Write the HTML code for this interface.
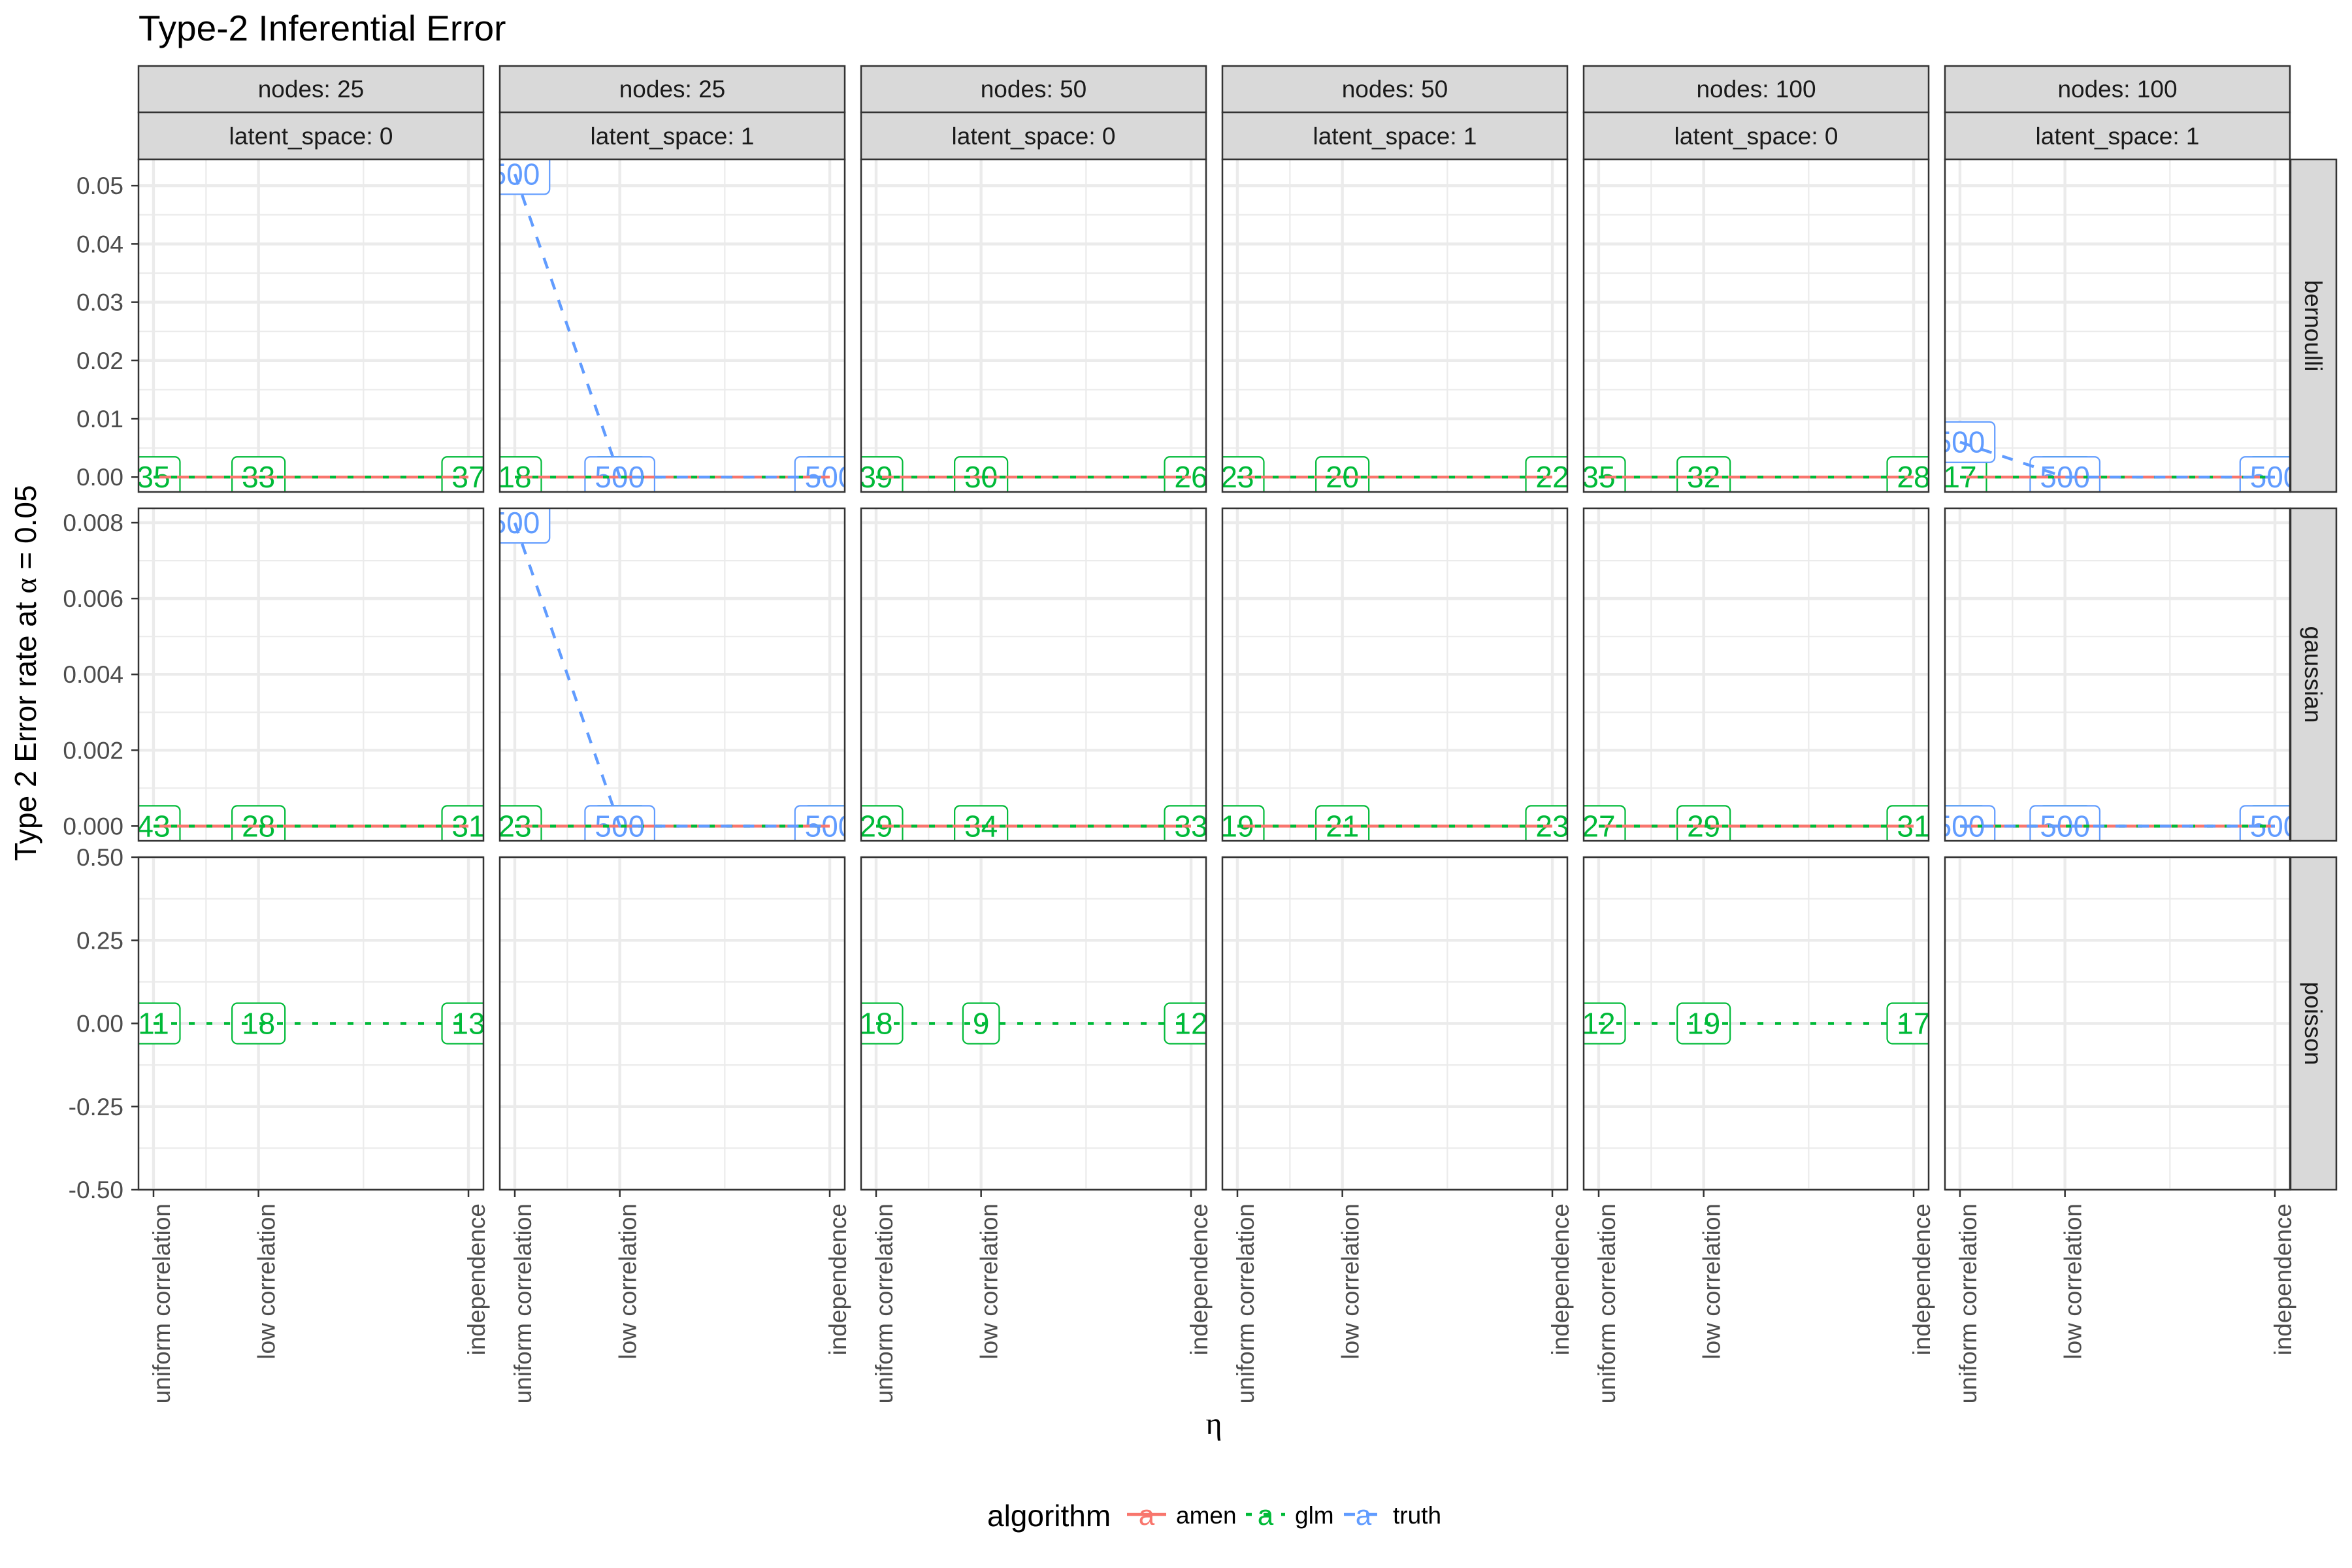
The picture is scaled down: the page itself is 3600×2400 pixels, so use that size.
<!DOCTYPE html>
<html><head><meta charset="utf-8"><style>
html,body{margin:0;padding:0;background:#fff;}
svg{display:block;font-family:"Liberation Sans",Arial,sans-serif;}
</style></head><body>
<svg id="chart" width="3600" height="2400" viewBox="0 0 3600 2400" xmlns="http://www.w3.org/2000/svg">
<rect width="3600" height="2400" fill="#fff"/>
<text x="212" y="62" font-size="55" fill="#000">Type-2 Inferential Error</text>
<text transform="translate(55,1030) rotate(-90)" text-anchor="middle" font-size="46" fill="#000">Type 2 Error rate at <tspan font-family="'Liberation Serif',serif">α</tspan> = 0.05</text>
<text x="1858" y="2195" text-anchor="middle" font-size="48" font-family="'Liberation Serif',serif" fill="#000">η</text>
<g id="panels"></g>
<g id="legend"></g>
</svg>
<script>
const families = ['bernoulli', 'gaussian', 'poisson'];
const nodesLabels = ['nodes: 25', 'nodes: 25', 'nodes: 50', 'nodes: 50', 'nodes: 100', 'nodes: 100'];
const latentLabels = ['latent_space: 0', 'latent_space: 1', 'latent_space: 0', 'latent_space: 1', 'latent_space: 0', 'latent_space: 1'];
const etaLabels = ['uniform correlation', 'low correlation', 'independence'];
const etaValues = [1, 2, 4];
const yTicksBernoulli = [0, 0.01, 0.02, 0.03, 0.04, 0.05];
const yTickLabelsBernoulli = ['0.00', '0.01', '0.02', '0.03', '0.04', '0.05'];
const yTicksGaussian = [0, 0.002, 0.004, 0.006, 0.008];
const yTickLabelsGaussian = ['0.000', '0.002', '0.004', '0.006', '0.008'];
const yTicksPoisson = [-0.5, -0.25, 0, 0.25, 0.5];
const yTickLabelsPoisson = ['-0.50', '-0.25', '0.00', '0.25', '0.50'];
const amenRates = [
  [[0,0,0],[0,0,0],[0,0,0],[0,0,0],[0,0,0],[0,0,0]],
  [[0,0,0],[0,0,0],[0,0,0],[0,0,0],[0,0,0],[0,0,0]],
  [null,null,null,null,null,null]
];
const glmRates = [
  [[0,0,0],[0,0,0],[0,0,0],[0,0,0],[0,0,0],[0,0,0]],
  [[0,0,0],[0,0,0],[0,0,0],[0,0,0],[0,0,0],[0,0,0]],
  [[0,0,0],null,[0,0,0],null,[0,0,0],null]
];
const glmCounts = [
  [[35,33,37],[18,21,20],[39,30,26],[23,20,22],[35,32,28],[17,20,19]],
  [[43,28,31],[23,25,22],[29,34,33],[19,21,23],[27,29,31],[20,22,24]],
  [[11,18,13],null,[18,9,12],null,[12,19,17],null]
];
const truthRates = [
  [null,[0.052,0,0],null,null,null,[0.006,0,0]],
  [null,[0.008,0,0],null,null,null,[0,0,0]],
  [null,null,null,null,null,null]
];
const truthCounts = [
  [null,[500,500,500],null,null,null,[500,500,500]],
  [null,[500,500,500],null,null,null,[500,500,500]],
  [null,null,null,null,null,null]
];

const NS = 'http://www.w3.org/2000/svg';
function mk(tag, attrs, parent) {
  const e = document.createElementNS(NS, tag);
  for (const k in attrs) e.setAttribute(k, attrs[k]);
  if (parent) parent.appendChild(e);
  return e;
}
const colors = {amen: '#F8766D', glm: '#00BA38', truth: '#619CFF'};
const dashes = {amen: 'none', glm: '9 18', truth: '17 17'};
const panelLeft0 = 212, panelStep = 553, panelW = 528;
const rowTop = [244, 778, 1312], rowH = 509;
const yDomains = [[-0.00255, 0.0545], [-0.00039, 0.00838], [-0.5, 0.5]];
const yTicksAll = [yTicksBernoulli, yTicksGaussian, yTicksPoisson];
const yTickLabelsAll = [yTickLabelsBernoulli, yTickLabelsGaussian, yTickLabelsPoisson];
const xDomain = [0.857, 4.143];
function xScale(col, v) { return panelLeft0 + col * panelStep + (v - xDomain[0]) / (xDomain[1] - xDomain[0]) * panelW; }
function yScale(row, v) { const d = yDomains[row]; return rowTop[row] + rowH - (v - d[0]) / (d[1] - d[0]) * rowH; }

const root = document.getElementById('panels');
const defs = mk('defs', {}, root);

for (let c = 0; c < 6; c++) {
  const x = panelLeft0 + c * panelStep;
  const s1 = mk('rect', {x: x, y: 101, width: panelW, height: 71, fill: '#D9D9D9', stroke: '#333', 'stroke-width': 2.5}, root);
  
  
  const t1 = mk('text', {x: x + panelW / 2, y: 149, 'text-anchor': 'middle', 'font-size': 37, fill: '#1A1A1A'}, root);
  t1.textContent = nodesLabels[c];
  
  
  const s2 = mk('rect', {x: x, y: 172, width: panelW, height: 72, fill: '#D9D9D9', stroke: '#333', 'stroke-width': 2.5}, root);
  
  
  const t2 = mk('text', {x: x + panelW / 2, y: 221, 'text-anchor': 'middle', 'font-size': 37, fill: '#1A1A1A'}, root);
  t2.textContent = latentLabels[c];
  
  
}
for (let r = 0; r < 3; r++) {
  const s = mk('rect', {x: 3506, y: rowTop[r], width: 70, height: rowH, fill: '#D9D9D9', stroke: '#333', 'stroke-width': 2.5}, root);
  
  
  const cy = rowTop[r] + rowH / 2;
  const t = mk('text', {transform: 'translate(3528,' + cy + ') rotate(90)', 'text-anchor': 'middle', 'font-size': 37, fill: '#1A1A1A'}, root);
  t.textContent = families[r];
  
  
}

function drawLabel(g, x, y, txt, color) {
  const w = String(txt).length * 25.5 + 30;
  const rect = mk('rect', {x: x - w / 2, y: y - 31, width: w, height: 62, rx: 8, fill: '#fff', stroke: color, 'stroke-width': 2.2}, g);
  
  
  const t = mk('text', {x: x, y: y + 16, 'text-anchor': 'middle', 'font-size': 46, fill: color}, g);
  t.textContent = txt;
  
  
}
function drawLine(g, r, c, vals, key) {
  const pts = vals.map((v, i) => xScale(c, etaValues[i]).toFixed(1) + ',' + yScale(r, v).toFixed(1)).join(' ');
  const attrs = {points: pts, fill: 'none', stroke: colors[key], 'stroke-width': 4.4};
  if (dashes[key] !== 'none') attrs['stroke-dasharray'] = dashes[key];
  const pl = mk('polyline', attrs, g);
  
  
}

for (let r = 0; r < 3; r++) {
  for (let c = 0; c < 6; c++) {
    const x0 = panelLeft0 + c * panelStep, y0 = rowTop[r];
    const g = mk('g', {}, root);
    
    
    const cid = 'clip' + r + '_' + c;
    const cp = mk('clipPath', {id: cid}, defs);
    mk('rect', {x: x0, y: y0, width: panelW, height: rowH}, cp);
    mk('rect', {x: x0, y: y0, width: panelW, height: rowH, fill: '#fff'}, g);
    const ticks = yTicksAll[r];
    for (let i = 0; i < ticks.length - 1; i++) {
      const yy = yScale(r, (ticks[i] + ticks[i + 1]) / 2);
      mk('line', {x1: x0, x2: x0 + panelW, y1: yy, y2: yy, stroke: '#EBEBEB', 'stroke-width': 2.2}, g);
    }
    [ (etaValues[0] + etaValues[1]) / 2, (etaValues[1] + etaValues[2]) / 2 ].forEach(v => {
      const xx = xScale(c, v);
      mk('line', {x1: xx, x2: xx, y1: y0, y2: y0 + rowH, stroke: '#EBEBEB', 'stroke-width': 2.2}, g);
    });
    ticks.forEach(v => {
      const yy = yScale(r, v);
      mk('line', {x1: x0, x2: x0 + panelW, y1: yy, y2: yy, stroke: '#EBEBEB', 'stroke-width': 4.4}, g);
    });
    etaValues.forEach(v => {
      const xx = xScale(c, v);
      mk('line', {x1: xx, x2: xx, y1: y0, y2: y0 + rowH, stroke: '#EBEBEB', 'stroke-width': 4.4}, g);
    });
    const dg = mk('g', {'clip-path': 'url(#' + cid + ')'}, g);
    if (glmRates[r][c]) glmRates[r][c].forEach((v, i) => drawLabel(dg, xScale(c, etaValues[i]), yScale(r, v), glmCounts[r][c][i], colors.glm));
    if (truthRates[r][c]) truthRates[r][c].forEach((v, i) => drawLabel(dg, xScale(c, etaValues[i]), yScale(r, v), truthCounts[r][c][i], colors.truth));
    if (amenRates[r][c]) drawLine(dg, r, c, amenRates[r][c], 'amen');
    if (glmRates[r][c]) drawLine(dg, r, c, glmRates[r][c], 'glm');
    if (truthRates[r][c]) drawLine(dg, r, c, truthRates[r][c], 'truth');
    const border = mk('rect', {x: x0, y: y0, width: panelW, height: rowH, fill: 'none', stroke: '#333', 'stroke-width': 2.5}, g);
    
    
    if (c === 0) {
      ticks.forEach((v, i) => {
        const yy = yScale(r, v);
        mk('line', {x1: 201, x2: 212, y1: yy, y2: yy, stroke: '#333', 'stroke-width': 2.5}, root);
        const t = mk('text', {x: 189, y: yy + 13, 'text-anchor': 'end', 'font-size': 37, fill: '#4D4D4D'}, root);
        t.textContent = yTickLabelsAll[r][i];
        
        
      });
    }
    if (r === 2) {
      etaValues.forEach((v, i) => {
        const xx = xScale(c, v);
        mk('line', {x1: xx, x2: xx, y1: y0 + rowH, y2: y0 + rowH + 11, stroke: '#333', 'stroke-width': 2.5}, root);
        const t = mk('text', {transform: 'translate(' + (xx + 25) + ',1842) rotate(-90)', 'text-anchor': 'end', 'font-size': 37, fill: '#4D4D4D'}, root);
        t.textContent = etaLabels[i];
        
        
      });
    }
  }
}

const lg = document.getElementById('legend');
const lt = mk('text', {x: 1511, y: 2336, 'font-size': 46, fill: '#000'}, lg);
lt.textContent = 'algorithm';


const legendKeys = ['amen', 'glm', 'truth'];
const legendX = [1725, 1907, 2057];
legendKeys.forEach((k, i) => {
  const x = legendX[i];
  const kg = mk('g', {}, lg);
  
  
  const attrs = {x1: x, x2: x + 60, y1: 2318, y2: 2318, stroke: colors[k], 'stroke-width': 4.4};
  if (dashes[k] !== 'none') attrs['stroke-dasharray'] = dashes[k];
  mk('line', attrs, kg);
  const a = mk('text', {x: x + 30, y: 2334, 'text-anchor': 'middle', 'font-size': 44, fill: colors[k]}, kg);
  a.textContent = 'a';
  const t = mk('text', {x: x + 75, y: 2332, 'font-size': 37, fill: '#000'}, kg);
  t.textContent = k;
});
</script>
</body></html>
